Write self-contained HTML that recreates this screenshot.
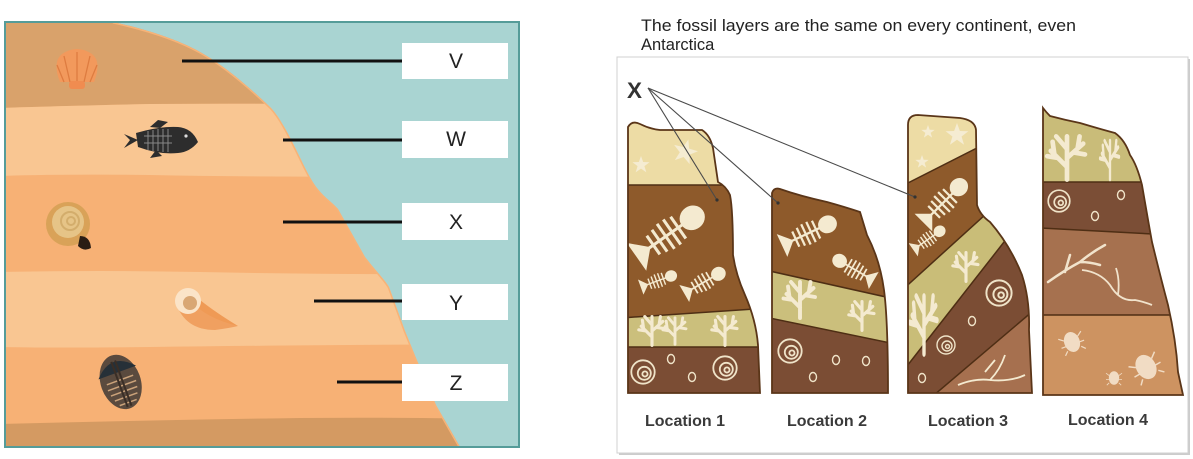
<!DOCTYPE html>
<html><head><meta charset="utf-8"><style>
html,body{margin:0;padding:0;background:#fff;}
svg{display:block;}
</style></head><body>
<svg width="1193" height="459" viewBox="0 0 1193 459" xmlns="http://www.w3.org/2000/svg">
<defs>
  <clipPath id="land"><path d="M5,22 L113,22 C140,28 175,38 200,52 C225,66 250,88 270,107 C285,122 300,160 311,179 C320,195 330,200 338,209 L365,257 C375,270 385,280 389,287 L405,331 L416,358 L436,405 L460,447 L5,447 Z"/></clipPath>
  <clipPath id="c1"><path d="M628,127 Q632,120 640,124 Q650,129 660,130 L702,130 Q710,135 713,148 L718,182 Q726,186 730,195 Q733,210 733,255 Q736,275 745,295 Q756,320 758,345 L760,393 L628,393 Z"/></clipPath>
  <clipPath id="c2"><path d="M772,193 Q774,187 780,189 Q800,196 827,202 Q845,207 860,212 L867,235 Q880,260 884,290 Q888,320 888,393 L772,393 Z"/></clipPath>
  <clipPath id="c3"><path d="M908,125 Q908,115 918,115 L960,118 Q975,120 976,130 L977,205 Q980,215 990,222 Q1010,245 1022,275 Q1030,300 1029,330 L1032,393 L908,393 Z"/></clipPath>
  <clipPath id="c4"><path d="M1043,108 Q1046,112 1050,116 Q1065,120 1080,123 Q1100,129 1115,133 Q1125,140 1130,155 Q1137,165 1142,185 Q1148,220 1152,242 Q1160,275 1168,305 Q1176,340 1178,372 L1183,395 L1043,395 Z"/></clipPath>
  <g id="star"><polygon points="0,-10 2.4,-3.3 9.5,-3.1 3.8,1.2 5.9,8.1 0,4 -5.9,8.1 -3.8,1.2 -9.5,-3.1 -2.4,-3.3" fill="#f5ecd2"/></g>
  <g id="fish" stroke="#f4ead0" fill="none" stroke-width="1.6">
    <path d="M-15,0 L9,0"/>
    <path d="M-12,-6 L-12,6 M-8,-7 L-8,7 M-4,-8 L-4,8 M0,-8 L0,8 M4,-7 L4,7"/>
    <ellipse cx="13" cy="0" rx="6" ry="5.5" fill="#f4ead0"/>
    <polygon points="-15,0 -22,-7 -22,7" fill="#f4ead0"/>
  </g>
  <g id="plant" stroke="#f4ead0" fill="none" stroke-width="2.6" stroke-linecap="round">
    <path d="M0,12 L0,-12 M0,5 L-9,-4 M0,0 L9,-8 M0,-5 L-6,-12 M-5,0 L-11,-1 M4,-3 L10,-2 M-7,-2 L-8,-9 M6,-6 L7,-12"/>
  </g>
  <g id="ammo" stroke="#efe3c8" fill="none" stroke-width="1.4">
    <circle r="9"/><circle cx="1" cy="1" r="5"/><circle cx="1.5" cy="1.5" r="2"/>
  </g>
  <g id="sh"><ellipse rx="3.5" ry="4.5" fill="none" stroke="#efe3c8" stroke-width="1.4"/></g>
  <g id="bug" fill="#f1dcc4" stroke="#f1dcc4" stroke-width="1">
    <ellipse rx="6" ry="8"/><path d="M-6,-3 L-10,-6 M-6,2 L-10,2 M-6,6 L-9,9 M6,-3 L10,-6 M6,2 L10,2 M6,6 L9,9" fill="none"/>
  </g>
</defs>

<!-- LEFT PANEL -->
<rect x="5" y="22" width="514" height="425" fill="#a9d4d2" stroke="#559c99" stroke-width="2"/>
<g clip-path="url(#land)">
  <rect x="0" y="0" width="520" height="460" fill="#f7b175"/>
  <path d="M0,0 L520,0 L520,106 Q300,103 150,104 Q60,106 0,108 Z" fill="#d9a26b"/>
  <path d="M0,108 Q60,106 150,104 Q300,103 520,106 L520,176 Q300,178 150,175 Q60,174 0,176 Z" fill="#f9c692"/>
  <path d="M0,272 Q100,270 200,272 Q350,275 520,274 L520,344 Q300,345 150,347 Q60,348 0,347 Z" fill="#f9c692"/>
  <path d="M0,424 Q150,420 300,418 Q420,417 520,420 L520,460 L0,460 Z" fill="#d49a62"/>
  <path d="M113,22 C140,28 175,38 200,52 C225,66 250,88 270,107 C285,122 300,160 311,179 C320,195 330,200 338,209 L365,257 C375,270 385,280 389,287 L405,331 L416,358 L436,405 L460,447" fill="none" stroke="#f7b378" stroke-width="3"/>
</g>
<rect x="5" y="22" width="514" height="425" fill="none" stroke="#559c99" stroke-width="2"/>

<!-- scallop -->
<g>
  <path d="M60,82 Q52,62 62,54 Q77,44 92,54 Q102,62 94,82 Z" fill="#f2995c"/>
  <path d="M77,82 L77,52 M70,82 L64,56 M84,82 L90,56 M64,82 L57,65 M90,82 L97,65" stroke="#de7c40" stroke-width="1.3"/>
  <rect x="69" y="81" width="16" height="8" rx="3" fill="#f08c50"/>
</g>
<!-- fish -->
<g fill="#2d2d2d">
  <polygon points="124,134 138,140 124,148 130,140"/>
  <path d="M136,133 Q160,126 178,127 Q192,128 198,142 Q190,152 178,153 Q160,155 138,147 Z"/>
  <path d="M150,127 L158,120 L168,122 L160,128 Z"/>
  <path d="M156,150 L150,158 L162,156 Z"/>
  <path d="M144,136 L172,136 M144,143 L172,143 M148,131 L148,150 M153,130 L153,151 M158,129 L158,151 M163,129 L163,152 M168,129 L168,152" stroke="#888" stroke-width="1" fill="none"/>
  <circle cx="186" cy="136" r="1.6" fill="#ddd"/>
</g>
<!-- ammonite -->
<g>
  <circle cx="68" cy="224" r="22" fill="#d9a258"/>
  <circle cx="68" cy="222" r="16" fill="#e6c487"/>
  <circle cx="70" cy="221" r="9" fill="none" stroke="#d3ad6c" stroke-width="2"/>
  <circle cx="71" cy="221" r="4" fill="none" stroke="#d3ad6c" stroke-width="2"/>
  <path d="M80,236 Q90,236 91,248 Q84,252 78,246 Z" fill="#2a1d14"/>
</g>
<!-- conch -->
<g>
  <path d="M178,300 Q195,320 238,326 Q215,312 200,300 Z" fill="#ef9a55"/>
  <path d="M176,303 Q185,330 215,330 Q230,328 238,326 Q205,318 190,300 Z" fill="#f0a060"/>
  <circle cx="188" cy="301" r="13" fill="#fbe4c8"/>
  <circle cx="190" cy="303" r="7" fill="#d9a774"/>
</g>
<!-- trilobite -->
<g transform="rotate(-20 120 380)">
  <ellipse cx="120" cy="382" rx="20" ry="28" fill="#5a4a3e"/>
  <path d="M100,372 Q120,350 140,372 Z" fill="#263038"/>
  <path d="M106,380 L134,380 M105,386 L135,386 M106,392 L134,392 M108,398 L132,398 M111,404 L129,404" stroke="#caa27a" stroke-width="1.5"/>
  <path d="M118,360 L118,408 M122,360 L122,408" stroke="#3a2e26" stroke-width="2"/>
</g>

<!-- connector lines & labels -->
<g stroke="#111" stroke-width="3">
  <line x1="182" y1="61" x2="402" y2="61"/>
  <line x1="283" y1="140" x2="402" y2="140"/>
  <line x1="283" y1="222" x2="402" y2="222"/>
  <line x1="314" y1="301" x2="402" y2="301"/>
  <line x1="337" y1="382" x2="402" y2="382"/>
</g>
<g fill="#fff">
  <rect x="402" y="43" width="106" height="36"/>
  <rect x="402" y="121" width="106" height="37"/>
  <rect x="402" y="203" width="106" height="37"/>
  <rect x="402" y="284" width="106" height="36"/>
  <rect x="402" y="364" width="106" height="37"/>
</g>
<g font-family="Liberation Sans, Arial, sans-serif" font-size="21" fill="#222" text-anchor="middle">
  <text x="456" y="68">V</text>
  <text x="456" y="146">W</text>
  <text x="456" y="229">X</text>
  <text x="456" y="310">Y</text>
  <text x="456" y="390">Z</text>
</g>

<!-- RIGHT PANEL -->
<g font-family="Liberation Sans, Arial, sans-serif" font-size="16.5" fill="#222">
  <text x="641" y="31" textLength="435" lengthAdjust="spacingAndGlyphs">The fossil layers are the same on every continent, even</text>
  <text x="641" y="50">Antarctica</text>
</g>
<rect x="619" y="59" width="571" height="396" fill="#9a9a9a" opacity="0.5"/>
<rect x="617" y="57" width="571" height="396" fill="#fff" stroke="#d0d0d0" stroke-width="1"/>

<!-- Location 1 -->
<g clip-path="url(#c1)">
  <rect x="620" y="100" width="150" height="300" fill="#8e5a2b"/>
  <rect x="620" y="100" width="150" height="85" fill="#eddca5"/>
  <polygon points="620,318 770,308 770,347 620,347" fill="#cbbf7c"/>
  <rect x="620" y="347" width="150" height="50" fill="#7b4d34"/>
  <g stroke="#4e2e14" stroke-width="1.5"><line x1="620" y1="185" x2="770" y2="185"/><line x1="620" y1="318" x2="770" y2="308"/><line x1="620" y1="347" x2="770" y2="347"/></g>
  <use href="#star" transform="translate(641,165) scale(0.9)"/>
  <use href="#star" transform="translate(685,152) scale(1.3) rotate(15)"/>
  <use href="#fish" transform="translate(672,232) rotate(-35) scale(1.9)"/>
  <use href="#fish" transform="translate(660,280) rotate(-20) scale(0.9)"/>
  <use href="#fish" transform="translate(706,281) rotate(-30) scale(1.1)"/>
  <use href="#plant" transform="translate(652,331) scale(1.2)"/>
  <use href="#plant" transform="translate(675,331) scale(1.1)"/>
  <use href="#plant" transform="translate(725,331) scale(1.2)"/>
  <use href="#ammo" transform="translate(643,372) scale(1.3)"/>
  <use href="#sh" transform="translate(671,359)"/>
  <use href="#sh" transform="translate(692,377)"/>
  <use href="#ammo" transform="translate(725,368) scale(1.3)"/>
</g>
<path d="M628,127 Q632,120 640,124 Q650,129 660,130 L702,130 Q710,135 713,148 L718,182 Q726,186 730,195 Q733,210 733,255 Q736,275 745,295 Q756,320 758,345 L760,393 L628,393 Z" fill="none" stroke="#5a3518" stroke-width="1.8"/>

<!-- Location 2 -->
<g clip-path="url(#c2)">
  <rect x="765" y="180" width="130" height="220" fill="#8e5a2b"/>
  <polygon points="765,270 895,299 895,344 765,317" fill="#cbbf7c"/>
  <polygon points="765,317 895,344 895,400 765,400" fill="#7b4d34"/>
  <g stroke="#4e2e14" stroke-width="1.5"><line x1="765" y1="270" x2="895" y2="299"/><line x1="765" y1="317" x2="895" y2="344"/></g>
  <use href="#fish" transform="translate(811,232) rotate(-25) scale(1.4)"/>
  <use href="#fish" transform="translate(852,268) rotate(30) scale(-1.1,1.1)"/>
  <use href="#plant" transform="translate(800,300) scale(1.5)"/>
  <use href="#plant" transform="translate(862,316) scale(1.2)"/>
  <use href="#ammo" transform="translate(790,351) scale(1.3)"/>
  <use href="#sh" transform="translate(836,360)"/>
  <use href="#sh" transform="translate(866,361)"/>
  <use href="#sh" transform="translate(813,377)"/>
</g>
<path d="M772,193 Q774,187 780,189 Q800,196 827,202 Q845,207 860,212 L867,235 Q880,260 884,290 Q888,320 888,393 L772,393 Z" fill="none" stroke="#5a3518" stroke-width="1.8"/>

<!-- Location 3 -->
<g clip-path="url(#c3)">
  <rect x="900" y="100" width="140" height="300" fill="#a6704f"/>
  <polygon points="900,100 1040,100 1040,116 900,187" fill="#eddca5"/>
  <polygon points="900,187 1040,116 1040,165 900,292" fill="#8e5a2b"/>
  <polygon points="900,292 1040,165 1040,196 900,375" fill="#c9bd78"/>
  <polygon points="900,375 1040,196 1040,305 900,424" fill="#7b4d34"/>
  <g stroke="#4e2e14" stroke-width="1.5"><line x1="900" y1="187" x2="1040" y2="116"/><line x1="900" y1="292" x2="1040" y2="165"/><line x1="900" y1="375" x2="1040" y2="196"/><line x1="900" y1="424" x2="1040" y2="305"/></g>
  <use href="#star" transform="translate(928,132) scale(0.7)"/>
  <use href="#star" transform="translate(957,135) scale(1.2)"/>
  <use href="#star" transform="translate(922,162) scale(0.7)"/>
  <use href="#fish" transform="translate(946,200) rotate(-45) scale(1.4)"/>
  <use href="#fish" transform="translate(930,238) rotate(-35) scale(0.9)"/>
  <use href="#plant" transform="translate(966,267) scale(1.2)"/>
  <use href="#plant" transform="translate(924,325) scale(1.3,2.4)"/>
  <use href="#ammo" transform="translate(999,293) scale(1.4)"/>
  <use href="#sh" transform="translate(972,321)"/>
  <use href="#ammo" transform="translate(946,345) scale(1)"/>
  <use href="#sh" transform="translate(922,378)"/>
  <path d="M958,385 Q975,378 990,380 Q1000,370 1005,355 M990,380 Q1010,382 1025,375 M985,372 L995,360" stroke="#f4ead0" stroke-width="1.8" fill="none"/>
</g>
<path d="M908,125 Q908,115 918,115 L960,118 Q975,120 976,130 L977,205 Q980,215 990,222 Q1010,245 1022,275 Q1030,300 1029,330 L1032,393 L908,393 Z" fill="none" stroke="#5a3518" stroke-width="1.8"/>

<!-- Location 4 -->
<g clip-path="url(#c4)">
  <rect x="1040" y="100" width="150" height="300" fill="#cd9361"/>
  <rect x="1040" y="100" width="150" height="82" fill="#c9bc79"/>
  <polygon points="1040,182 1190,182 1190,236 1040,228" fill="#7b4e36"/>
  <polygon points="1040,228 1190,236 1190,315 1040,315" fill="#a6714f"/>
  <g stroke="#4e2e14" stroke-width="1.5"><line x1="1040" y1="182" x2="1190" y2="182"/><line x1="1040" y1="228" x2="1190" y2="236"/><line x1="1040" y1="315" x2="1190" y2="315"/></g>
  <use href="#plant" transform="translate(1067,158) scale(1.8)"/>
  <use href="#plant" transform="translate(1110,160) scale(0.9,1.6)"/>
  <use href="#ammo" transform="translate(1059,201) scale(1.2)"/>
  <use href="#sh" transform="translate(1121,195)"/>
  <use href="#sh" transform="translate(1095,216)"/>
  <path d="M1048,282 Q1065,270 1080,262 Q1092,252 1105,245 M1080,262 Q1090,262 1100,265 M1065,272 L1070,255" stroke="#f1e3cc" stroke-width="2.5" fill="none" stroke-linecap="round"/>
  <path d="M1082,270 Q1100,272 1110,285 Q1120,302 1135,300 Q1145,302 1152,305 M1118,295 Q1120,280 1116,268" stroke="#f1e3cc" stroke-width="1.8" fill="none"/>
  <use href="#bug" transform="translate(1072,342) rotate(-20) scale(1.2)"/>
  <use href="#bug" transform="translate(1146,367) rotate(-30) scale(1.5)"/>
  <use href="#bug" transform="translate(1114,378) scale(0.8)"/>
</g>
<path d="M1043,108 Q1046,112 1050,116 Q1065,120 1080,123 Q1100,129 1115,133 Q1125,140 1130,155 Q1137,165 1142,185 Q1148,220 1152,242 Q1160,275 1168,305 Q1176,340 1178,372 L1183,395 L1043,395 Z" fill="none" stroke="#5a3518" stroke-width="1.8"/>

<!-- X and connectors -->
<text x="627" y="98" font-family="Liberation Sans, Arial, sans-serif" font-weight="bold" font-size="22" fill="#333" textLength="15" lengthAdjust="spacingAndGlyphs">X</text>
<g stroke="#4a4a4a" stroke-width="1.1">
  <line x1="648" y1="88" x2="717" y2="200"/>
  <line x1="648" y1="88" x2="778" y2="203"/>
  <line x1="648" y1="88" x2="915" y2="197"/>
</g>
<g fill="#333"><circle cx="717" cy="200" r="1.6"/><circle cx="778" cy="203" r="1.6"/><circle cx="915" cy="197" r="1.6"/></g>

<g font-family="Liberation Sans, Arial, sans-serif" font-weight="bold" font-size="16" fill="#3a3a3a">
  <text x="645" y="426">Location 1</text>
  <text x="787" y="426">Location 2</text>
  <text x="928" y="426">Location 3</text>
  <text x="1068" y="425">Location 4</text>
</g>
</svg>
</body></html>
